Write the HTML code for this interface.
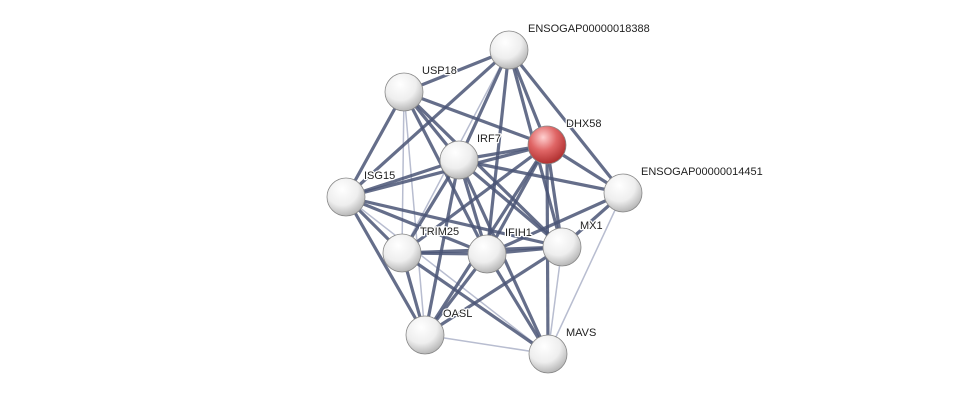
<!DOCTYPE html>
<html><head><meta charset="utf-8"><style>
html,body{margin:0;padding:0;background:#fff;}
svg{display:block;font-family:"Liberation Sans",sans-serif;}
</style></head><body>
<svg width="976" height="400" viewBox="0 0 976 400" xmlns="http://www.w3.org/2000/svg">
<defs>
<radialGradient id="g" cx="40%" cy="30%" r="70%">
<stop offset="0" stop-color="#ffffff"/><stop offset="0.6" stop-color="#eeeeee"/><stop offset="1" stop-color="#b8b8b8"/>
</radialGradient>
<radialGradient id="r" cx="40%" cy="30%" r="70%">
<stop offset="0" stop-color="#ffd0d0"/><stop offset="0.5" stop-color="#e06666"/><stop offset="1" stop-color="#b03030"/>
</radialGradient>
</defs>
<g stroke="#b8bdd0" stroke-width="1.5" fill="none">
<line x1="562" y1="247" x2="548" y2="354"/>
<line x1="623" y1="193" x2="548" y2="354"/>
<line x1="425" y1="335" x2="548" y2="354"/>
<line x1="404" y1="92" x2="402" y2="253"/>
<line x1="346" y1="197" x2="548" y2="354"/>
<line x1="404" y1="92" x2="425" y2="335"/>
<line x1="509" y1="50" x2="402" y2="253"/>
</g>
<g stroke="#4a5575" stroke-width="3.2" stroke-opacity="0.85" fill="none">
<line x1="509" y1="50" x2="404" y2="92"/>
<line x1="509" y1="50" x2="459" y2="160"/>
<line x1="509" y1="50" x2="547" y2="145"/>
<line x1="509" y1="50" x2="623" y2="193"/>
<line x1="509" y1="50" x2="346" y2="197"/>
<line x1="509" y1="50" x2="487" y2="254"/>
<line x1="509" y1="50" x2="562" y2="247"/>
<line x1="404" y1="92" x2="459" y2="160"/>
<line x1="404" y1="92" x2="547" y2="145"/>
<line x1="404" y1="92" x2="346" y2="197"/>
<line x1="404" y1="92" x2="487" y2="254"/>
<line x1="404" y1="92" x2="562" y2="247"/>
<line x1="459" y1="160" x2="547" y2="145"/>
<line x1="459" y1="160" x2="346" y2="197"/>
<line x1="459" y1="160" x2="487" y2="254"/>
<line x1="459" y1="160" x2="562" y2="247"/>
<line x1="459" y1="160" x2="548" y2="354"/>
<line x1="459" y1="160" x2="402" y2="253"/>
<line x1="459" y1="160" x2="425" y2="335"/>
<line x1="459" y1="160" x2="623" y2="193"/>
<line x1="547" y1="145" x2="346" y2="197"/>
<line x1="547" y1="145" x2="623" y2="193"/>
<line x1="547" y1="145" x2="487" y2="254"/>
<line x1="547" y1="145" x2="562" y2="247"/>
<line x1="547" y1="145" x2="548" y2="354"/>
<line x1="547" y1="145" x2="402" y2="253"/>
<line x1="547" y1="145" x2="425" y2="335"/>
<line x1="346" y1="197" x2="402" y2="253"/>
<line x1="346" y1="197" x2="487" y2="254"/>
<line x1="346" y1="197" x2="562" y2="247"/>
<line x1="346" y1="197" x2="425" y2="335"/>
<line x1="402" y1="253" x2="487" y2="254"/>
<line x1="402" y1="253" x2="562" y2="247"/>
<line x1="402" y1="253" x2="425" y2="335"/>
<line x1="402" y1="253" x2="548" y2="354"/>
<line x1="487" y1="254" x2="562" y2="247"/>
<line x1="487" y1="254" x2="425" y2="335"/>
<line x1="487" y1="254" x2="548" y2="354"/>
<line x1="487" y1="254" x2="623" y2="193"/>
<line x1="562" y1="247" x2="623" y2="193"/>
<line x1="562" y1="247" x2="425" y2="335"/>
</g>
<g stroke="#888" stroke-width="0.8">
<circle cx="509" cy="50" r="19" fill="url(#g)"/>
<circle cx="404" cy="92" r="19" fill="url(#g)"/>
<circle cx="547" cy="145" r="19" fill="url(#r)"/>
<circle cx="459" cy="160" r="19" fill="url(#g)"/>
<circle cx="346" cy="197" r="19" fill="url(#g)"/>
<circle cx="623" cy="193" r="19" fill="url(#g)"/>
<circle cx="402" cy="253" r="19" fill="url(#g)"/>
<circle cx="487" cy="254" r="19" fill="url(#g)"/>
<circle cx="562" cy="247" r="19" fill="url(#g)"/>
<circle cx="425" cy="335" r="19" fill="url(#g)"/>
<circle cx="548" cy="354" r="19" fill="url(#g)"/>
</g>
<g font-size="11" fill="#222" stroke="#fff" stroke-width="2.5" paint-order="stroke" stroke-linejoin="round">
<text x="528" y="32">ENSOGAP00000018388</text>
<text x="422" y="74">USP18</text>
<text x="566" y="127">DHX58</text>
<text x="477" y="142">IRF7</text>
<text x="364" y="179">ISG15</text>
<text x="641" y="175">ENSOGAP00000014451</text>
<text x="420" y="235">TRIM25</text>
<text x="505" y="236">IFIH1</text>
<text x="580" y="229">MX1</text>
<text x="443" y="317">OASL</text>
<text x="566" y="336">MAVS</text>
</g>
</svg>
</body></html>
